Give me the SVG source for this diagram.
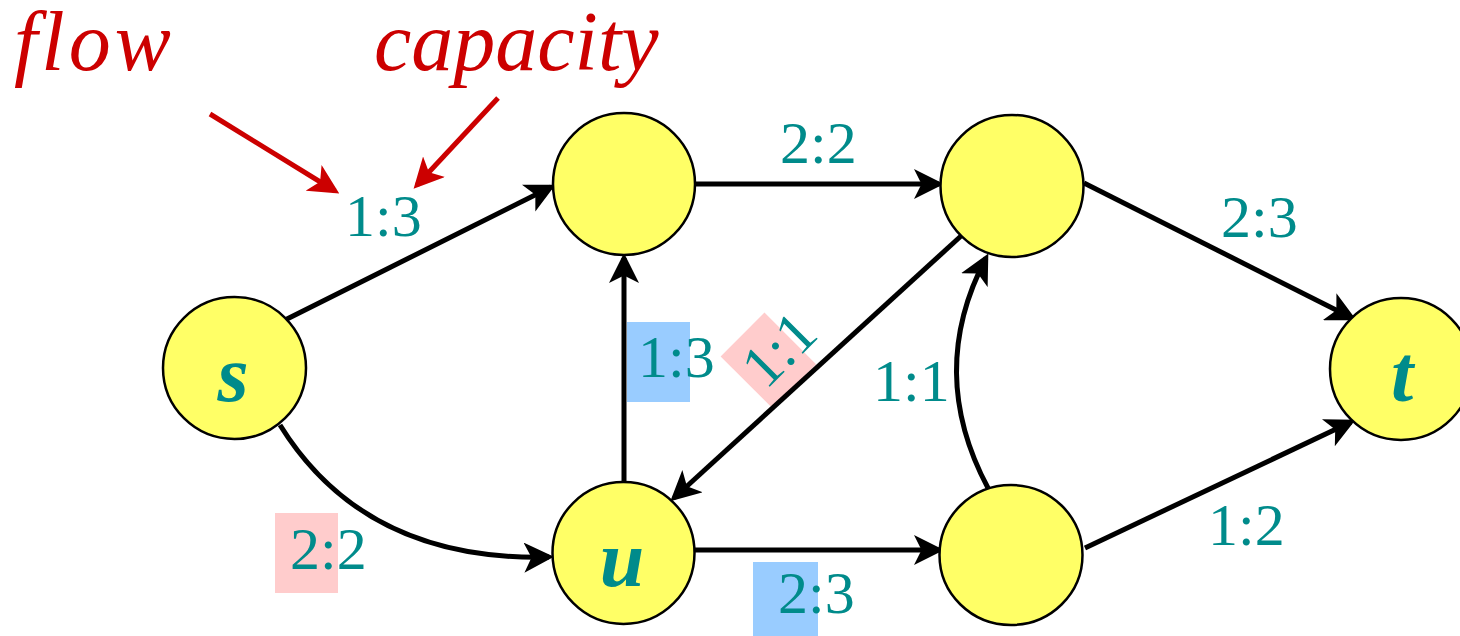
<svg xmlns="http://www.w3.org/2000/svg" width="1460" height="636" viewBox="0 0 1460 636">
<style>
.node ellipse{fill:#FFFF66;stroke:#000;stroke-width:2.5}
.lbl{font-family:"Liberation Serif",serif;font-size:60px;fill:#008B8B}
.nl{font-family:"Liberation Serif",serif;font-style:italic;font-weight:bold;font-size:80px;fill:#008B8B;text-anchor:middle}
.red{font-family:"Liberation Serif",serif;font-style:italic;font-size:84px;fill:#CC0000}
.edge{fill:none;stroke:#000;stroke-width:5;marker-end:url(#ah)}
.rarr{fill:none;stroke:#CC0000;stroke-width:5;marker-end:url(#rh)}
</style>
<defs>
<marker id="ah" markerWidth="6" markerHeight="6" refX="5" refY="3" orient="auto" markerUnits="strokeWidth">
<path d="M0,0 L6,3 L0,6 L1.5,3 Z" fill="#000"/>
</marker>
<marker id="rh" markerWidth="6" markerHeight="6" refX="5" refY="3" orient="auto" markerUnits="strokeWidth">
<path d="M0,0 L6,3 L0,6 L1.5,3 Z" fill="#CC0000"/>
</marker>
</defs>
<rect width="1460" height="636" fill="#fff"/>
<g id="annotations">
<text class="red" x="14" y="70" letter-spacing="4">flow</text>
<text class="red" x="374" y="70">capacity</text>
<line class="rarr" x1="210" y1="114" x2="335" y2="191"/>
<line class="rarr" x1="498" y1="98" x2="417" y2="185"/>
</g>
<g id="highlights">
<rect x="627" y="322" width="63" height="80" fill="#99CCFF"/>
<rect x="275" y="513" width="63" height="80" fill="#FFCCCC"/>
<rect x="753" y="562" width="65" height="74" fill="#99CCFF"/>
<rect x="737" y="324" width="62" height="73" fill="#FFCCCC" transform="rotate(-45 768 360)"/>
</g>
<g id="connectors">
<line class="edge" x1="285" y1="320" x2="551" y2="187"/>
<path class="edge" d="M280,425 Q365,562 549,557"/>
<line class="edge" x1="695" y1="184" x2="939" y2="184"/>
<line class="edge" x1="624" y1="482" x2="624" y2="258"/>
<line class="edge" x1="961" y1="236" x2="674" y2="498"/>
<path class="edge" d="M988,488 Q926,372 986,258"/>
<line class="edge" x1="1084" y1="183" x2="1352" y2="318"/>
<line class="edge" x1="695" y1="550" x2="939" y2="550"/>
<line class="edge" x1="1085" y1="548" x2="1351" y2="422"/>
</g>
<g id="node-s" class="node"><ellipse cx="234.5" cy="368" rx="71.5" ry="71"/><text class="nl" x="233" y="401">s</text></g>
<g id="node-a" class="node"><ellipse cx="624" cy="184" rx="71" ry="71"/></g>
<g id="node-b" class="node"><ellipse cx="1012" cy="186" rx="71.5" ry="71"/></g>
<g id="node-u" class="node"><ellipse cx="623.5" cy="553" rx="71" ry="71"/><text class="nl" x="622" y="586">u</text></g>
<g id="node-c" class="node"><ellipse cx="1011" cy="555" rx="71.5" ry="70"/></g>
<g id="node-t" class="node"><ellipse cx="1401" cy="369" rx="71" ry="71"/><text class="nl" x="1402" y="401">t</text></g>
<g id="labels">
<text class="lbl" x="345" y="236">1:3</text>
<text class="lbl" x="780" y="163">2:2</text>
<text class="lbl" x="1221" y="237">2:3</text>
<text class="lbl" x="638" y="377">1:3</text>
<text class="lbl" x="873" y="401">1:1</text>
<text class="lbl" x="290" y="569">2:2</text>
<text class="lbl" x="778" y="613">2:3</text>
<text class="lbl" x="1208" y="545">1:2</text>
<text class="lbl" x="745" y="380" transform="rotate(-45 768 360)">1:1</text>
</g>
</svg>
